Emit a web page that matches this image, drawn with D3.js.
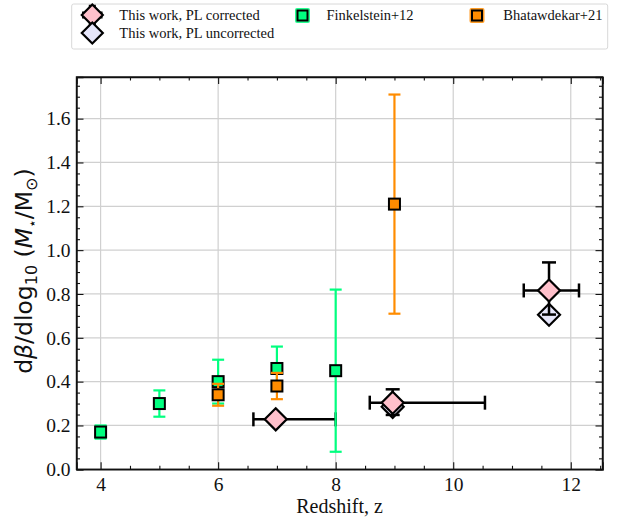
<!DOCTYPE html>
<html><head><meta charset="utf-8">
<script src="https://cdn.jsdelivr.net/npm/d3@7"></script>
<style>body{margin:0;background:#fff}svg{display:block}</style>
</head><body>
<svg id="c" width="622" height="520"></svg>
<script>
// ---- data ----
const finkZ   = [4, 5, 6, 7, 8];
const finkB   = [0.17, 0.30, 0.40, 0.46, 0.45];
const finkErr = [0.03, 0.06, 0.10, 0.10, 0.37];

const bhatZ   = [6, 7, 9];
const bhatB   = [0.34, 0.38, 1.21];
const bhatErr = [0.05, 0.06, 0.50];

const corrZ    = [6.98, 8.97, 11.63];
const corrB    = [0.228, 0.304, 0.816];
const corrZlo  = [0.38, 0.39, 0.43];
const corrZhi  = [1.02, 1.57, 0.51];
const corrBlo  = [0.0, 0.056, 0.11];
const corrBhi  = [0.0, 0.061, 0.128];

const uncZ = [8.97, 11.63];
const uncB = [0.285, 0.705];

const xTicks = [4, 6, 8, 10, 12];
const yTicks = [0.0, 0.2, 0.4, 0.6, 0.8, 1.0, 1.2, 1.4, 1.6];

const legendLabels = ["This work, PL corrected", "This work, PL uncorrected", "Finkelstein+12", "Bhatawdekar+21"];

// ---- styles ----
const GREEN = "#00ff7f", ORANGE = "#ff8c00", PINK = "#ffc0cb", LAV = "#e6e6fa";
const serif = "'Liberation Serif','Times New Roman',serif";

const svg = d3.select("#c");
const L = 76.5, R = 602.5, T = 77, B = 469.3;
const x = d3.scaleLinear().domain([3.59, 12.54]).range([L, R]);
const y = d3.scaleLinear().domain([0, 1.79]).range([B, T]);

// grid
const g = svg.append("g");
g.selectAll(".gx").data(xTicks).join("line")
  .attr("x1", d => x(d)).attr("x2", d => x(d)).attr("y1", T).attr("y2", B)
  .attr("stroke", "#d0d0d0").attr("stroke-width", 1.2);
g.selectAll(".gy").data(yTicks).join("line")
  .attr("y1", d => y(d)).attr("y2", d => y(d)).attr("x1", L).attr("x2", R)
  .attr("stroke", "#d0d0d0").attr("stroke-width", 1.2);

// axes with inward ticks
const xMinor = d3.range(3.5, 12.6, 0.5).filter(v => x(v) >= L && x(v) <= R && !xTicks.includes(v));
const yMinor = d3.range(0, 1.8, 0.05).map(v => +v.toFixed(2)).filter(v => y(v) >= T && !yTicks.some(t => Math.abs(t - v) < 1e-6));

function axisX(pos, dir, labels) {
  const a = d3.axisBottom(x).tickValues(xTicks).tickSize(-7 * dir).tickPadding(8).tickFormat(labels ? d3.format("d") : "");
  const grp = svg.append("g").attr("transform", `translate(0,${pos})`).call(a);
  const m = d3.axisBottom(x).tickValues(xMinor).tickSize(-3.5 * dir).tickFormat("");
  svg.append("g").attr("transform", `translate(0,${pos})`).call(m).select(".domain").remove();
  return grp;
}
function axisY(pos, dir, labels) {
  const a = d3.axisLeft(y).tickValues(yTicks).tickSize(-7 * dir).tickPadding(6).tickFormat(labels ? d3.format(".1f") : "");
  const grp = svg.append("g").attr("transform", `translate(${pos},0)`).call(a);
  const m = d3.axisLeft(y).tickValues(yMinor).tickSize(-3.5 * dir).tickFormat("");
  svg.append("g").attr("transform", `translate(${pos},0)`).call(m).select(".domain").remove();
  return grp;
}
const axes = [axisX(B, 1, true), axisX(T, -1, false), axisY(L, 1, true), axisY(R, -1, false)];
axes.forEach(a => a.attr("font-family", serif).attr("font-size", 19));
svg.selectAll(".tick line").attr("stroke", "#111").attr("stroke-width", 1.1);
svg.selectAll(".domain").attr("stroke", "#111").attr("stroke-width", 1.4);
svg.selectAll(".tick text").style("font-family", serif).style("font-size", "19.5px").attr("fill", "#111");
axes[0].selectAll(".tick text").attr("dy", "0.72em");

// frame
svg.append("rect").attr("x", L).attr("y", T).attr("width", R - L).attr("height", B - T)
  .attr("fill", "none").attr("stroke", "#111").attr("stroke-width", 1.4);

// axis labels
svg.append("text").attr("x", (L + R) / 2).attr("y", 513).attr("text-anchor", "middle")
  .style("font-family", serif).style("font-size", "20px").attr("fill", "#111").text("Redshift, z");

const yl = svg.append("text").attr("transform", `translate(32,${(T + B) / 2 - 2}) rotate(-90)`)
  .attr("text-anchor", "middle").style("font-family", "'DejaVu Sans',sans-serif").style("font-size", "23.5px").attr("fill", "#111");
yl.append("tspan").text("d");
yl.append("tspan").attr("font-style", "italic").text("β");
yl.append("tspan").text("/dlog");
yl.append("tspan").style("font-size", "16px").attr("dy", 5).text("10");
yl.append("tspan").attr("dy", -5).text(" (");
yl.append("tspan").attr("font-style", "italic").text("M");
yl.append("tspan").style("font-size", "14px").attr("dy", 5).text("⋆");
yl.append("tspan").attr("dy", -5).text("/M");
yl.append("tspan").style("font-size", "16px").attr("dy", 5).text("⊙");
yl.append("tspan").attr("dy", -5).text(")");

// plotting helpers
const diamond = (cx, cy, r) => `M${cx},${cy - r}L${cx + r},${cy}L${cx},${cy + r}L${cx - r},${cy}Z`;
const plot = svg.append("g");

// uncorrected
plot.selectAll(".unc").data(uncZ).join("path")
  .attr("d", (d, i) => diamond(x(d), y(uncB[i]), 11))
  .attr("fill", LAV).attr("stroke", "#000").attr("stroke-width", 2.2);

// corrected: error bars then markers
corrZ.forEach((z, i) => {
  const cx = x(z), cy = y(corrB[i]);
  const x0 = x(z - corrZlo[i]), x1 = x(z + corrZhi[i]);
  plot.append("line").attr("x1", x0).attr("x2", x1).attr("y1", cy).attr("y2", cy).attr("stroke", "#000").attr("stroke-width", 2.5);
  [x0, x1].forEach(xx => plot.append("line").attr("x1", xx).attr("x2", xx).attr("y1", cy - 7).attr("y2", cy + 7).attr("stroke", "#000").attr("stroke-width", 2.5));
  if (corrBhi[i] > 0 || corrBlo[i] > 0) {
    const y0 = y(corrB[i] - corrBlo[i]), y1 = y(corrB[i] + corrBhi[i]);
    plot.append("line").attr("x1", cx).attr("x2", cx).attr("y1", y0).attr("y2", y1).attr("stroke", "#000").attr("stroke-width", 2.5);
    [y0, y1].forEach(yy => plot.append("line").attr("x1", cx - 7).attr("x2", cx + 7).attr("y1", yy).attr("y2", yy).attr("stroke", "#000").attr("stroke-width", 2.5));
  }
});
plot.selectAll(".corr").data(corrZ).join("path")
  .attr("d", (d, i) => diamond(x(d), y(corrB[i]), 11))
  .attr("fill", PINK).attr("stroke", "#000").attr("stroke-width", 2.2);

function squares(zs, bs, errs, col) {
  zs.forEach((z, i) => {
    const cx = x(z), y0 = y(bs[i] - errs[i]), y1 = y(bs[i] + errs[i]);
    plot.append("line").attr("x1", cx).attr("x2", cx).attr("y1", y0).attr("y2", y1).attr("stroke", col).attr("stroke-width", 2.2);
    [y0, y1].forEach(yy => plot.append("line").attr("x1", cx - 6).attr("x2", cx + 6).attr("y1", yy).attr("y2", yy).attr("stroke", col).attr("stroke-width", 2.2));
  });
  zs.forEach((z, i) => {
    plot.append("rect").attr("x", x(z) - 5.5).attr("y", y(bs[i]) - 5.5).attr("width", 11).attr("height", 11)
      .attr("fill", col).attr("stroke", "#000").attr("stroke-width", 2);
  });
}
squares(finkZ, finkB, finkErr, GREEN);
squares(bhatZ, bhatB, bhatErr, ORANGE);

// legend
const lg = svg.append("g");
lg.append("rect").attr("x", 71.7).attr("y", 4).attr("width", 536).attr("height", 45).attr("rx", 2)
  .attr("fill", "#fff").attr("stroke", "#d8d8d8").attr("stroke-width", 1);
(function () {
  const cx = 92.3, cy = 15, a = 9, c = 3.5;
  lg.append("line").attr("x1", cx - a).attr("x2", cx + a).attr("y1", cy).attr("y2", cy).attr("stroke", "#000").attr("stroke-width", 2.5);
  lg.append("line").attr("x1", cx).attr("x2", cx).attr("y1", cy - a).attr("y2", cy + a).attr("stroke", "#000").attr("stroke-width", 2.5);
  [-a, a].forEach(dx => lg.append("line").attr("x1", cx + dx).attr("x2", cx + dx).attr("y1", cy - c).attr("y2", cy + c).attr("stroke", "#000").attr("stroke-width", 2.5));
  [-a, a].forEach(dy => lg.append("line").attr("x1", cx - c).attr("x2", cx + c).attr("y1", cy + dy).attr("y2", cy + dy).attr("stroke", "#000").attr("stroke-width", 2.5));
  lg.append("path").attr("d", diamond(cx, cy, 10.5)).attr("fill", PINK).attr("stroke", "#000").attr("stroke-width", 2.2);
})();
lg.append("path").attr("d", diamond(92.3, 33, 10.5)).attr("fill", LAV).attr("stroke", "#000").attr("stroke-width", 2.2);
function sqHandle(cx, cy, col) {
  lg.append("rect").attr("x", cx - 7.5).attr("y", cy - 7.5).attr("width", 15).attr("height", 15).attr("rx", 2).attr("fill", col).attr("opacity", 0.85);
  lg.append("rect").attr("x", cx - 5).attr("y", cy - 5).attr("width", 10).attr("height", 10).attr("fill", col).attr("stroke", "#000").attr("stroke-width", 2);
}
sqHandle(302.5, 15.5, GREEN);
sqHandle(477, 15.5, ORANGE);
const lt = [[119.3, 20, 0], [119.3, 38, 1], [326.5, 20, 2], [503.3, 20, 3]];
lg.selectAll(".lt").data(lt).join("text")
  .attr("x", d => d[0]).attr("y", d => d[1])
  .style("font-family", serif).style("font-size", "14.5px").attr("fill", "#111")
  .text(d => legendLabels[d[2]]);
</script>
</body></html>
